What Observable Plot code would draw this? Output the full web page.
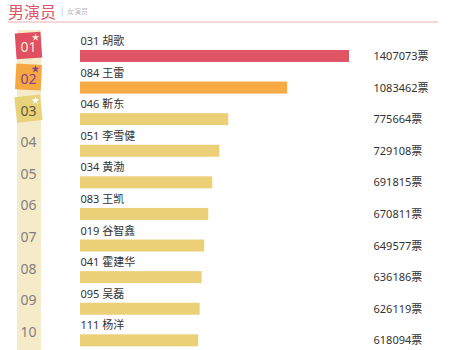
<!DOCTYPE html>
<html>
<head>
<meta charset="utf-8">
<script src="https://cdn.jsdelivr.net/npm/d3@7"></script>
<script src="https://cdn.jsdelivr.net/npm/@observablehq/plot@0.6"></script>
<style>
  html, body { margin: 0; padding: 0; background: #fff; }
  #wrap { position: relative; width: 450px; height: 350px; overflow: hidden; font-family: "Noto Sans", "Noto Sans CJK SC", sans-serif; }
  #title { position: absolute; left: 8px; top: 2px; font-size: 16px; line-height: 18px; white-space: nowrap; color: #e0566a; font-family: "Noto Sans CJK SC", sans-serif; }
  #sep { position: absolute; left: 60px; top: 6px; font-size: 8px; line-height: 10px; color: #bbb; }
  #sub { position: absolute; left: 67px; top: 7px; font-size: 7px; line-height: 9px; white-space: nowrap; color: #bbb; font-family: "Noto Sans CJK SC", sans-serif; }
  #rule { position: absolute; left: 8px; top: 21px; width: 430px; height: 2px; background: #f6d6d6; }
  #strip { position: absolute; left: 17px; top: 30px; width: 24px; height: 320px; background: #f6ebc9; }
  #chart { position: absolute; left: 0; top: 24px; }
</style>
</head>
<body>
<div id="wrap">
  <div id="title">男演员</div>
  <div id="sep">|</div>
  <div id="sub">女演员</div>
  <div id="rule"></div>
  <div id="strip"></div>
  <div id="chart"></div>
</div>
<script>
const ranks = ["01","02","03","04","05","06","07","08","09","10"];
const codes = ["031","084","046","051","034","083","019","041","095","111"];
const names = ["胡歌","王雷","靳东","李雪健","黄渤","王凯","谷智鑫","霍建华","吴磊","杨洋"];
const votes = [1407073,1083462,775664,729108,691815,670811,649577,636186,626119,618094];
const barColors = ["#e05565","#f8aa45","#ecd078","#ecd078","#ecd078","#ecd078","#ecd078","#ecd078","#ecd078","#ecd078"];
const badgeColors = ["#e04f62","#f5a742","#e9d27c"];
const badgeText = ["#fbe9cf","#8a3f8c","#5f5a3a"];
const starColors = ["#fbe9cf","#8a3f8c","#ffffff"];
const badgeRotate = [-4, 3, -6];

const data = ranks.map((r, i) => ({
  rank: r, label: codes[i] + " " + names[i], votes: votes[i],
  color: barColors[i],
  badge: i < 3 ? badgeColors[i] : null,
  numColor: i < 3 ? badgeText[i] : "#808080",
  star: i < 3 ? starColors[i] : null,
  rot: i < 3 ? badgeRotate[i] : 0
}));
const top3 = data.filter(d => d.badge);

const chart = Plot.plot({
  width: 450,
  height: 326,
  marginLeft: 80,
  marginRight: 101,
  marginTop: 22.8,
  marginBottom: 0.5,
  x: { domain: [0, 1407073], axis: null },
  y: { domain: ranks, axis: null, paddingInner: 0.62, paddingOuter: 0.1, round: false },
  style: { fontFamily: '"Noto Sans", "Noto Sans CJK SC", sans-serif', background: "transparent" },
  marks: [
    Plot.barX(data, { x: "votes", y: "rank", fill: d => d.color }),
    Plot.text(data, { x: 0, y: "rank", text: "label", textAnchor: "start", dy: -15, fontSize: 11, fill: "#333" }),
    Plot.text(data, { y: "rank", text: d => d.votes + "票", frameAnchor: "right", textAnchor: "start", dx: 24, fontSize: 11, fill: "#333" }),
    Plot.dot(top3, { y: "rank", frameAnchor: "left", dx: -52, dy: -11, symbol: "square", r: 14.5, fill: "badge", rotate: "rot" }),
    Plot.dot(top3, { y: "rank", frameAnchor: "left", dx: -45, dy: -19, symbol: "star", r: 2.5, fill: "star" }),
    Plot.text(data, { y: "rank", text: "rank", frameAnchor: "left", textAnchor: "middle", dx: -52, dy: -8.5, fontSize: 14, fill: "numColor" })
  ]
});
document.getElementById("chart").appendChild(chart);
</script>
</body>
</html>
